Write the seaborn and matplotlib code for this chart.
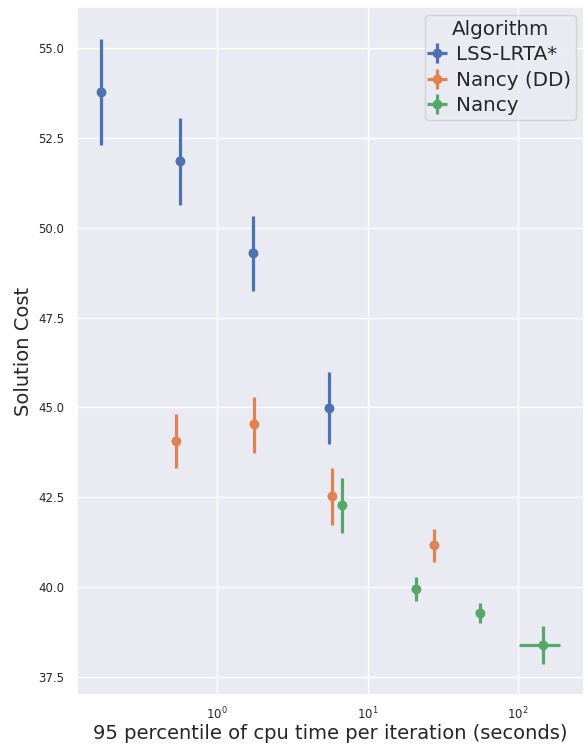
import numpy as np
import pandas as pd
import matplotlib
matplotlib.use('Agg')
import matplotlib.pyplot as plt
import seaborn as sns

# ── Data ──────────────────────────────────────────────────────────────────────
algorithms = ['LSS-LRTA*', 'Nancy (DD)', 'Nancy']

lss_time = [0.170, 0.568, 1.735, 5.55]
lss_cost = [53.78, 51.86, 49.30, 44.98]
lss_cost_lo = [52.30, 50.63, 48.24, 43.98]
lss_cost_hi = [55.25, 53.05, 50.33, 45.98]

dd_time = [0.534, 1.76, 5.81, 27.7]
dd_cost = [44.07, 44.54, 42.53, 41.17]
dd_cost_lo = [43.31, 43.73, 41.73, 40.70]
dd_cost_hi = [44.82, 45.29, 43.31, 41.62]

nancy_time = [6.77, 21.0, 55.9, 146.6]
nancy_cost = [42.28, 39.95, 39.28, 38.39]
nancy_cost_lo = [41.51, 39.61, 39.00, 37.86]
nancy_cost_hi = [43.04, 40.28, 39.56, 38.92]
nancy_time_lo = [6.77, 21.0, 55.9, 101.5]
nancy_time_hi = [6.77, 21.0, 55.9, 190.0]

groups = {
    'LSS-LRTA*': (lss_time, lss_cost, lss_cost_lo, lss_cost_hi, lss_time, lss_time),
    'Nancy (DD)': (dd_time, dd_cost, dd_cost_lo, dd_cost_hi, dd_time, dd_time),
    'Nancy': (nancy_time, nancy_cost, nancy_cost_lo, nancy_cost_hi, nancy_time_lo, nancy_time_hi),
}

rows = []
for name, (t, c, clo, chi, tlo, thi) in groups.items():
    for i in range(len(t)):
        rows.append({'Algorithm': name, 'time': t[i], 'cost': c[i],
                     'cost_lo': clo[i], 'cost_hi': chi[i],
                     'time_lo': tlo[i], 'time_hi': thi[i]})
df = pd.DataFrame(rows)

# ── Plot ──────────────────────────────────────────────────────────────────────
sns.set_theme(style='darkgrid')
palette = dict(zip(algorithms, sns.color_palette('deep', 3)))

fig, ax = plt.subplots(figsize=(5.87, 7.47), dpi=100)
fig.subplots_adjust(left=0.131, right=0.995, top=0.9906, bottom=0.0696)

sns.scatterplot(data=df, x='time', y='cost', hue='Algorithm', palette=palette,
                s=40, edgecolor='none', legend=False, ax=ax, zorder=3)

for name in algorithms:
    sub = df[df['Algorithm'] == name]
    yerr = [sub['cost'] - sub['cost_lo'], sub['cost_hi'] - sub['cost']]
    xerr = [sub['time'] - sub['time_lo'], sub['time_hi'] - sub['time']]
    ax.errorbar(sub['time'], sub['cost'], yerr=yerr, xerr=xerr, fmt='o',
                color=palette[name], ms=6, elinewidth=2.3, capsize=0, label=name)

ax.set_xscale('log')
ax.set_xlim(0.117, 275)
ax.set_ylim(37.0, 56.14)
ax.set_yticks([37.5, 40.0, 42.5, 45.0, 47.5, 50.0, 52.5, 55.0])
ax.tick_params(axis='both', labelsize=8.5, pad=3)
ax.tick_params(axis='x', pad=2)
ax.set_xlabel('95 percentile of cpu time per iteration (seconds)', fontsize=14, labelpad=1)
ax.set_ylabel('Solution Cost', fontsize=14)
ax.legend(title='Algorithm', loc='upper right', fontsize=14.3, title_fontsize=14.3,
          handletextpad=0.6, borderpad=0.25, labelspacing=0.32, handlelength=0.7,
          borderaxespad=0.4)

plt.savefig('out.png', dpi=100)
